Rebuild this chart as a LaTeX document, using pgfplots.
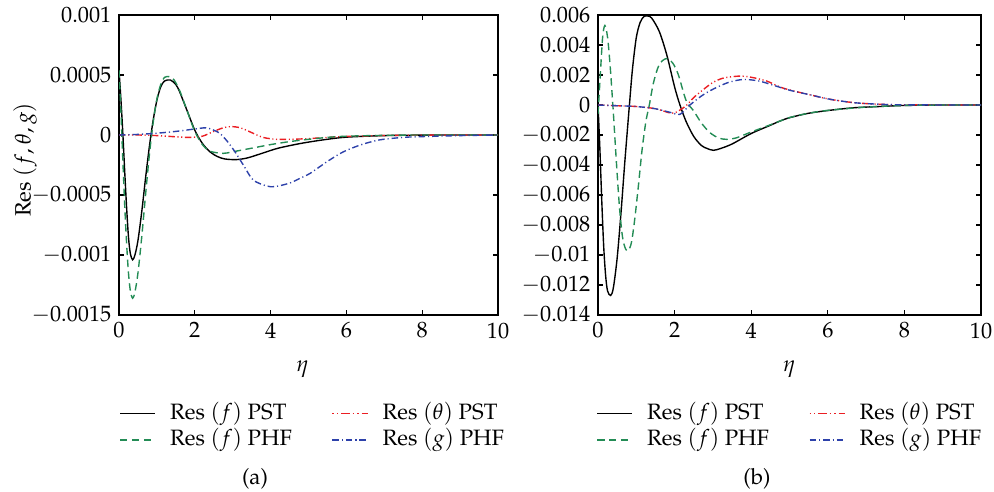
\documentclass[border=0pt,12pt]{standalone}
\usepackage[T1]{fontenc}
\usepackage{mathpazo}
\usepackage{pgfplots}
\pgfplotsset{compat=1.18}
\definecolor{cgreen}{RGB}{35,140,85}
\definecolor{resred}{RGB}{235,30,35}
\definecolor{cblue}{RGB}{45,65,170}
\tikzset{tpstleg/.style={color=resred, line width=0.9pt, dash pattern=on 0.8pt off 1.6pt on 0.8pt off 1.6pt on 4.5pt off 1.6pt}}
\pgfplotsset{
  resaxis/.style={
    scale only axis,
    anchor=south west,
    xmin=0, xmax=10,
    xtick={0,2,4,6,8,10},
    tick align=inside,
    major tick length=2.8pt,
    axis line style={line width=0.6pt},
    every tick/.style={line width=0.6pt, black},
    scaled y ticks=false,
    tick label style={font=\normalsize},
    xlabel={$\eta$},
    legend columns=2,
    legend cell align=left,
    legend image code/.code={\draw[##1] (0pt,0pt) -- (19pt,0pt);},
    legend style={draw=none, fill=none, anchor=north west, inner sep=0pt,
      nodes={inner sep=0pt, text height=0.75em, text depth=0.25em},
      row sep=2.3pt,
      /tikz/every odd column/.append style={column sep=7.6pt},
      /tikz/every even column/.append style={column sep=21.4pt}},
  },
  fpst/.style={color=black, line width=0.75pt},
  fphf/.style={color=cgreen, line width=0.75pt, dash pattern=on 4pt off 2.4pt},
  tpst/.style={color=resred, line width=0.75pt, dash pattern=on 3.5pt off 1.4pt on 0.6pt off 1.4pt on 0.6pt off 1.4pt},
  gphf/.style={color=cblue, line width=0.75pt, dash pattern=on 3.5pt off 1.6pt on 0.6pt off 1.6pt},
}
\begin{document}
\begin{tikzpicture}
\useasboundingbox (0,0) rectangle (536.76pt,265.14pt);
% ---------------- (a) ----------------
\begin{axis}[resaxis,
  at={(64.26pt,95.04pt)}, width=204.66pt, height=162pt,
  ymin=-0.0015, ymax=0.001,
  ytick={-0.0015,-0.001,-0.0005,0,0.0005,0.001},
  yticklabels={$-0.0015$,$-0.001$,$-0.0005$,$0$,$0.0005$,$0.001$},
  ylabel={Res $(f, \theta, g)$},
  ylabel style={at={(axis description cs:-0.248,0.517)}, anchor=center},
  xlabel style={at={(axis description cs:0.485,-0.18)}, anchor=center},
  legend style={at={(axis description cs:0,-0.29)}},
]
\addplot[fpst, smooth, forget plot] coordinates {
(0,0.00054) (0.05,0.0003) (0.1,0.00002) (0.15,-0.0003) (0.2,-0.0006) (0.25,-0.00085)
(0.3,-0.00099) (0.36,-0.00104) (0.42,-0.001) (0.5,-0.00088) (0.6,-0.00064) (0.7,-0.00036)
(0.8,-0.0001) (0.9,0.00012) (1.0,0.00029) (1.1,0.0004) (1.2,0.00045) (1.36,0.000458)
(1.5,0.00042) (1.6,0.00036) (1.8,0.0002) (2.0,0.00004) (2.2,-0.00007) (2.4,-0.00014)
(2.6,-0.00018) (2.8,-0.0002) (3.1,-0.000205) (3.4,-0.00019) (3.8,-0.00015) (4.2,-0.00011)
(4.8,-0.00007) (5.4,-0.00004) (6,-0.000018) (7,-0.000005) (8,-0.000001) (9,0) (10,0)};
\addplot[tpst, smooth, forget plot] coordinates {
(0,0) (0.5,0) (1.0,-0.000005) (1.5,-0.000015) (1.87,-0.00002) (2.2,-0.00001) (2.5,0.00003)
(2.75,0.00006) (2.95,0.00007) (3.2,0.00006) (3.5,0.00002) (3.8,-0.00002) (4.16,-0.000036)
(4.6,-0.000035) (5.0,-0.00003) (5.5,-0.00002) (6,-0.000012) (7,-0.000004) (8,-0.000001) (10,0)};
\addplot[fphf, smooth, forget plot] coordinates {
(0,0.00054) (0.05,0.0002) (0.1,-0.0002) (0.15,-0.00058) (0.2,-0.0009) (0.25,-0.00115)
(0.3,-0.0013) (0.36,-0.00136) (0.42,-0.00131) (0.5,-0.00115) (0.6,-0.00085) (0.7,-0.0005)
(0.8,-0.00017) (0.9,0.0001) (1.0,0.0003) (1.1,0.00042) (1.2,0.00048) (1.33,0.000486)
(1.45,0.00046) (1.6,0.00037) (1.8,0.0002) (2.0,0.00003) (2.2,-0.00008) (2.4,-0.000135)
(2.75,-0.000153) (3.0,-0.00014) (3.5,-0.00011) (4,-0.00008) (4.5,-0.000055) (5,-0.000036)
(5.5,-0.00002) (6,-0.00001) (7,-0.000003) (8,0) (10,0)};
\addplot[gphf, smooth, forget plot] coordinates {
(0,0) (0.5,0.000005) (1.0,0.000015) (1.5,0.00003) (2.0,0.00005) (2.3,0.00006) (2.5,0.00004)
(2.66,0.000014) (2.85,-0.00005) (3.06,-0.00014) (3.3,-0.00026) (3.54,-0.000375) (3.9,-0.000425)
(4.12,-0.00043) (4.51,-0.0004) (4.78,-0.00036) (5.04,-0.00032) (5.5,-0.00022) (5.92,-0.00014)
(6.4,-0.00008) (6.89,-0.00004) (7.5,-0.00002) (7.94,-0.000014) (9,-0.000005) (10,0)};
\addlegendimage{fpst}
\addlegendentry{Res $(f)$ PST}
\addlegendimage{tpstleg}
\addlegendentry{Res $(\theta)$ PST}
\addlegendimage{fphf}
\addlegendentry{Res $(f)$ PHF}
\addlegendimage{gphf}
\addlegendentry{Res $(g)$ PHF}
\end{axis}
% ---------------- (b) ----------------
\begin{axis}[resaxis,
  at={(322.92pt,95.04pt)}, width=206.82pt, height=162pt,
  ymin=-0.014, ymax=0.006,
  ytick={-0.014,-0.012,-0.01,-0.008,-0.006,-0.004,-0.002,0,0.002,0.004,0.006},
  yticklabels={$-0.014$,$-0.012$,$-0.01$,$-0.008$,$-0.006$,$-0.004$,$-0.002$,$0$,$0.002$,$0.004$,$0.006$},
  xlabel style={at={(axis description cs:0.5,-0.18)}, anchor=center},
  legend style={at={(axis description cs:-0.005,-0.29)}},
]
\addplot[fpst, smooth] coordinates {
(0,0) (0.05,-0.003) (0.1,-0.0065) (0.15,-0.0095) (0.2,-0.0114) (0.25,-0.0124) (0.33,-0.0127)
(0.4,-0.0122) (0.5,-0.0102) (0.6,-0.0072) (0.7,-0.0038) (0.82,0) (0.9,0.0024) (1.0,0.0045)
(1.1,0.0055) (1.2,0.0059) (1.3,0.00593) (1.4,0.0058) (1.6,0.0049) (1.8,0.0033) (2.0,0.0012)
(2.14,0) (2.3,-0.0011) (2.5,-0.0021) (2.7,-0.0027) (2.85,-0.0029) (3.01,-0.00302) (3.2,-0.0029)
(3.5,-0.0026) (4,-0.0019) (4.5,-0.00135) (4.75,-0.00107) (5.01,-0.00084) (5.5,-0.00055)
(6.06,-0.00035) (6.7,-0.00018) (7.36,-0.0001) (8,-0.00003) (9,0) (10,0)};
\addlegendentry{Res $(f)$ PST}
\addplot[tpst, smooth, legend image code/.code={\pgfsetstrokecolor{resred}\pgfsetfillcolor{resred}\draw[tpstleg] (0pt,0pt) -- (19pt,0pt);}] coordinates {
(0,0) (0.5,-0.00005) (1.0,-0.0001) (1.5,-0.00025) (1.92,-0.00055) (2.1,-0.0004) (2.32,0)
(2.5,0.0005) (2.76,0.00105) (3.0,0.0015) (3.28,0.0018) (3.71,0.00193) (4.0,0.00185)
(4.4,0.0016) (4.75,0.0012) (5.01,0.001) (5.5,0.0007) (6.06,0.00038) (6.7,0.00015)
(7.36,0.00005) (8,0.00001) (10,0)};
\addlegendentry{Res $(\theta)$ PST}
\addplot[fphf, smooth] coordinates {
(0,-0.0006) (0.06,0.002) (0.12,0.0045) (0.18,0.0053) (0.25,0.0045) (0.32,0.0025) (0.4,-0.0005)
(0.48,-0.0038) (0.56,-0.0068) (0.64,-0.0088) (0.72,-0.0096) (0.79,-0.0097) (0.87,-0.0092)
(0.95,-0.0078) (1.05,-0.0055) (1.15,-0.003) (1.25,-0.0011) (1.34,0) (1.45,0.0015) (1.6,0.0027)
(1.79,0.0031) (1.95,0.0028) (2.1,0.002) (2.3,0.0003) (2.5,-0.0004) (2.7,-0.0012) (2.92,-0.00184)
(3.15,-0.0022) (3.36,-0.00229) (3.6,-0.0022) (4,-0.0018) (4.5,-0.00132) (5,-0.00084)
(5.5,-0.00055) (6,-0.00036) (7,-0.00014) (8,-0.00003) (9,0) (10,0)};
\addlegendentry{Res $(f)$ PHF}
\addplot[gphf, smooth] coordinates {
(0,0) (0.5,-0.00005) (1.0,-0.0001) (1.5,-0.00025) (1.9,-0.0005) (2.14,-0.00062) (2.4,0)
(2.7,0.0006) (3.0,0.00105) (3.4,0.0015) (3.79,0.0017) (4.2,0.0016) (4.6,0.0013) (5.01,0.00098)
(5.5,0.0007) (6.06,0.00038) (6.7,0.00015) (7.36,0.00005) (8,0.00001) (10,0)};
\addlegendentry{Res $(g)$ PHF}
\end{axis}
\node at (137.7pt,6.5pt) {(a)};
\node at (408.78pt,6.5pt) {(b)};
\end{tikzpicture}
\end{document}
